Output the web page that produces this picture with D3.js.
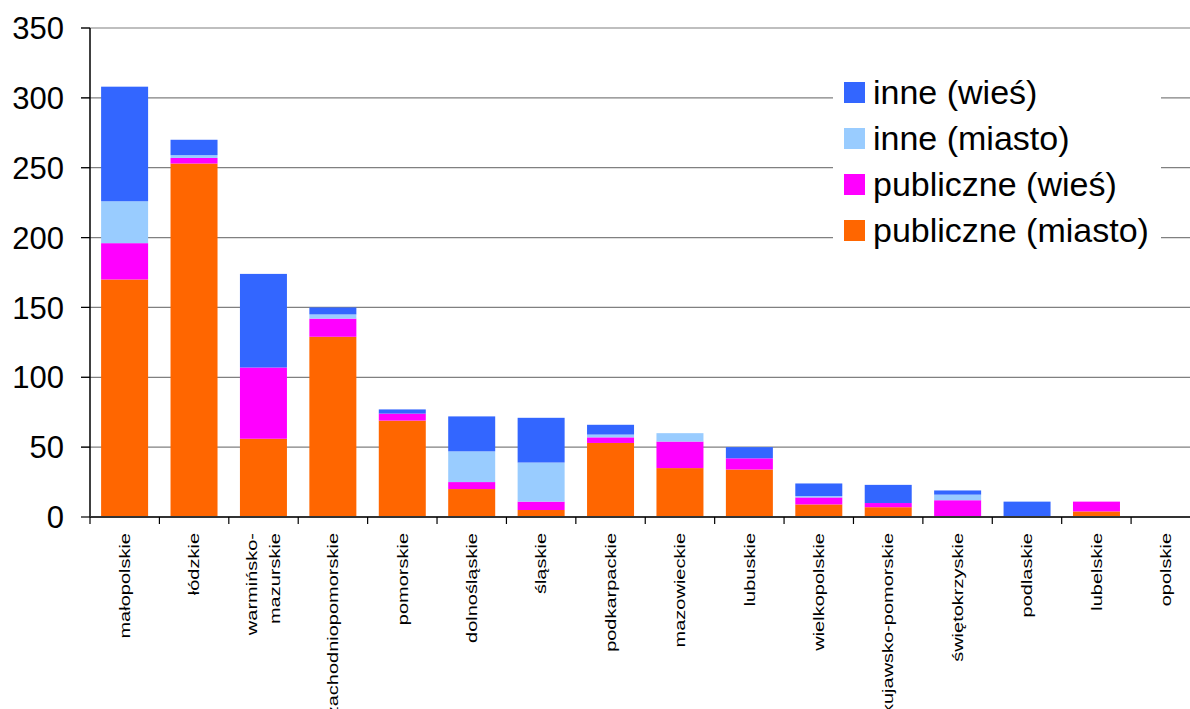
<!DOCTYPE html>
<html>
<head>
<meta charset="utf-8">
<script src="https://cdn.jsdelivr.net/npm/d3@7"></script>
<style>
  body { margin: 0; background: #fff; }
  svg { display: block; font-family: "Liberation Sans", Arial, sans-serif; }
</style>
</head>
<body>
<div id="chart"></div>
<script>
var regions = ["małopolskie","łódzkie","warmińsko-mazurskie","zachodniopomorskie","pomorskie",
  "dolnośląskie","śląskie","podkarpackie","mazowieckie","lubuskie","wielkopolskie",
  "kujawsko-pomorskie","świętokrzyskie","podlaskie","lubelskie","opolskie"];

// stacked bottom to top
var publiczneMiasto = [170,253,56,129,69,20,5,53,35,34,9,7,0,0,4,0];
var publiczneWies   = [26,4,51,13,5,5,6,4,19,8,5,3,12,0,7,0];
var inneMiasto      = [30,2,0,3,0,22,28,2,6,0,1,0,4,0,0,0];
var inneWies        = [82,11,67,5,3,25,32,7,0,8,9,13,3,11,0,0];

var seriesNames = ["publiczne (miasto)","publiczne (wieś)","inne (miasto)","inne (wieś)"];
var seriesColors = ["#FF6600","#FF00FF","#99CCFF","#3366FF"];
var yTicks = [0,50,100,150,200,250,300,350];

var width = 1190, height = 709;
var plotLeft = 90, plotRight = 1200.5, plotTop = 28, plotBottom = 517;

var svg = d3.select("#chart").append("svg")
  .attr("width", width)
  .attr("height", height);

var x = d3.scaleBand().domain(regions).range([plotLeft, plotRight])
  .paddingInner(0.323).paddingOuter(0.16);
var xStep = d3.scaleBand().domain(regions).range([plotLeft, plotRight]);
var y = d3.scaleLinear().domain([0,350]).range([plotBottom, plotTop]);

// gridlines
svg.append("g").selectAll("line").data(yTicks.slice(1)).enter().append("line")
  .attr("x1", plotLeft - 9)
  .attr("x2", width)
  .attr("y1", d => y(d))
  .attr("y2", d => y(d))
  .attr("stroke", "#808080")
  .attr("stroke-width", 1.2);

// stacked bars
var rows = regions.map(function(r, i){
  return {region: r, s0: publiczneMiasto[i], s1: publiczneWies[i], s2: inneMiasto[i], s3: inneWies[i]};
});
var stack = d3.stack().keys(["s0","s1","s2","s3"])(rows);

svg.append("g").selectAll("g").data(stack).enter().append("g")
  .attr("fill", (d,i) => seriesColors[i])
  .selectAll("rect").data(d => d).enter().append("rect")
  .attr("x", d => x(d.data.region))
  .attr("width", x.bandwidth())
  .attr("y", d => y(d[1]))
  .attr("height", d => y(d[0]) - y(d[1]));

// y axis
svg.append("line")
  .attr("x1", plotLeft).attr("x2", plotLeft)
  .attr("y1", plotTop).attr("y2", plotBottom)
  .attr("stroke", "#000").attr("stroke-width", 1.5);

svg.append("g").selectAll("line").data(yTicks).enter().append("line")
  .attr("x1", plotLeft - 9).attr("x2", plotLeft)
  .attr("y1", d => y(d)).attr("y2", d => y(d))
  .attr("stroke", "#000").attr("stroke-width", 1.2);

svg.append("g").selectAll("text").data(yTicks).enter().append("text")
  .attr("x", 64)
  .attr("y", d => y(d))
  .attr("dy", "0.36em")
  .attr("text-anchor", "end")
  .attr("font-size", 31)
  .attr("fill", "#000")
  .text(d => d);

// x axis
svg.append("line")
  .attr("x1", plotLeft).attr("x2", width)
  .attr("y1", plotBottom).attr("y2", plotBottom)
  .attr("stroke", "#333").attr("stroke-width", 2);

svg.append("g").selectAll("line").data(regions).enter().append("line")
  .attr("x1", d => xStep(d)).attr("x2", d => xStep(d))
  .attr("y1", plotBottom).attr("y2", plotBottom + 7)
  .attr("stroke", "#000").attr("stroke-width", 1.2);

// category labels, rotated and condensed
var labels = svg.append("g").selectAll("text").data(regions).enter().append("text")
  .attr("transform", d => "translate(" + (xStep(d) + xStep.bandwidth()/2) + ",533) rotate(-90) scale(1,0.74)")
  .attr("text-anchor", "end")
  .attr("font-size", 20)
  .attr("fill", "#000");

labels.each(function(d){
  var t = d3.select(this);
  if (d === "warmińsko-mazurskie") {
    t.append("tspan").attr("x", 0).attr("y", -15.5).attr("dy", "0.35em").text("warmińsko-");
    t.append("tspan").attr("x", 0).attr("y", 15.5).attr("dy", "0.35em").text("mazurskie");
  } else {
    t.attr("dy", "0.35em").text(d);
  }
});

// legend
var legend = svg.append("g");
legend.append("rect")
  .attr("x", 833).attr("y", 64)
  .attr("width", 328).attr("height", 192)
  .attr("fill", "#fff");

var legendOrder = [3,2,1,0];
var item = legend.selectAll("g").data(legendOrder).enter().append("g")
  .attr("transform", (d,i) => "translate(844," + (92.5 + i*46) + ")");

item.append("rect")
  .attr("x", 0).attr("y", -10.5)
  .attr("width", 21).attr("height", 21)
  .attr("fill", d => seriesColors[d]);

item.append("text")
  .attr("x", 29)
  .attr("dy", "0.35em")
  .attr("font-size", 34)
  .attr("fill", "#000")
  .text(d => seriesNames[d]);
</script>
</body>
</html>
